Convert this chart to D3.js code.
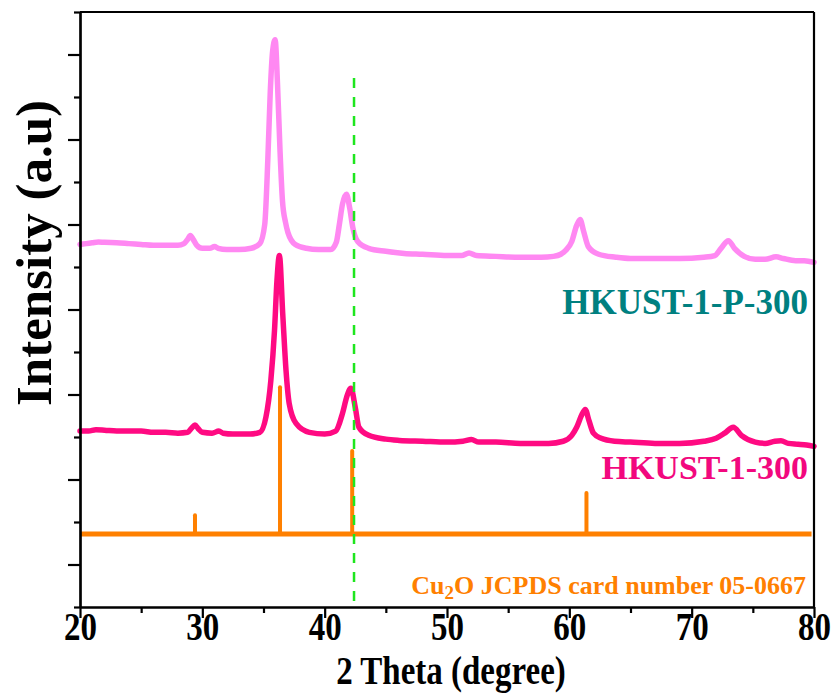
<!DOCTYPE html>
<html><head><meta charset="utf-8">
<script src="https://cdn.jsdelivr.net/npm/d3@7"></script>
<style>
html,body{margin:0;padding:0;background:#fff;}
text{font-family:"Liberation Serif","Times New Roman",serif;font-weight:bold;}
</style></head>
<body><svg id="c" width="835" height="698"></svg>
<script>
// ---- data ----
const p300X = [20.0,20.5,21.0,21.5,22.0,23.0,24.0,25.0,26.0,27.0,28.0,28.5,28.8,29.02,29.25,29.55,30.0,30.6,31.0,31.3,32.0,33.0,34.0,34.7,35.1,35.35,35.55,35.75,35.95,36.15,36.35,36.55,36.8,37.0,37.6,38.5,39.5,40.5,40.95,41.2,41.45,41.78,42.05,42.3,42.7,43.6,45.0,46.5,48.0,50.0,51.2,51.8,52.4,54.0,56.0,57.7,58.7,59.3,59.7,60.2,60.6,60.88,61.15,61.55,62.4,63.8,65.0,67.0,69.0,71.0,71.9,72.4,73.0,73.5,74.3,75.2,76.0,76.9,77.5,78.5,79.2,80.0];
const p300Y = [853,855,857,859,858,857,855,853,851,851,851,855,865,874,865,851,844,844,848,844,841,841,844,855,900,1050,1210,1309,1335,1227,1074,956,905,881,853,844,841,841,858,900,947,971,938,893,860,844,837,832,830,827,827,833,827,825,823,823,825,830,839,860,898,912,886,848,830,823,820,820,820,823,827,844,862,844,825,818,818,824,820,815,815,811];

const h300X = [20.0,20.7,21.3,22.0,23.0,24.0,25.0,26.0,27.0,28.0,28.8,29.15,29.4,29.65,30.0,30.8,31.35,31.7,32.5,33.9,34.7,35.2,35.6,35.9,36.1,36.3,36.57,36.84,37.1,37.66,38.75,40.0,40.9,41.46,41.8,42.14,42.5,42.8,43.6,45.0,46.1,48.0,50.0,51.3,52.0,52.6,54.0,56.0,58.3,59.5,60.2,60.6,61.0,61.3,61.6,61.97,62.6,63.7,65.0,67.0,69.0,71.0,72.0,72.7,73.4,74.06,75.2,76.0,76.8,77.3,77.9,78.7,79.4,80.0];
const h300Y = [414,414,417,416,414,414,414,411,411,409,411,422,428,420,411,409,414,409,407,407,411,447,533,651,768,827,691,557,479,432,411,407,414,456,494,515,470,423,404,395,392,390,388,390,394,388,388,385,385,390,404,423,451,465,439,409,397,390,388,385,385,390,397,409,423,404,388,385,390,391,385,383,381,378];

const cu2oBase = 172;
const cu2oPeakX = [29.4,36.35,42.25,61.4];
const cu2oPeakY = [216,517,367,268];

const refLineX = 42.4;
const refLineTop = 1245;

const xTicksMajor = [20,30,40,50,60,70,80];
const xTicksMinor = [25,35,45,55,65,75];
const yTicksLong = [100,300,500,700,900,1100,1300];
const yTicksShort = [0,200,400,600,800,1000,1200,1400];

const labelP = "HKUST-1-P-300";
const labelH = "HKUST-1-300";
const xTitle = "2 Theta (degree)";
const yTitle = "Intensity (a.u)";

// ---- chart ----
const svg = d3.select("#c");
const L = 80, R = 814, T = 12, B = 607;
const x = d3.scaleLinear().domain([20,80]).range([L,R]);
const y = d3.scaleLinear().domain([0,1400]).range([B,T]);
const SY = 1.2; // vertical stretch of the axis text

const line = d3.line().x(d=>x(d[0])).y(d=>y(d[1])).curve(d3.curveMonotoneX);

svg.append("path").datum(p300X.map((v,i)=>[v,p300Y[i]]))
  .attr("d",line).attr("fill","none").attr("stroke","#ff88f2")
  .attr("stroke-width",5.5).attr("stroke-linejoin","round").attr("stroke-linecap","round");

svg.append("path").datum(h300X.map((v,i)=>[v,h300Y[i]]))
  .attr("d",line).attr("fill","none").attr("stroke","#ff0a82")
  .attr("stroke-width",5.5).attr("stroke-linejoin","round").attr("stroke-linecap","round");

// Cu2O reference pattern
svg.append("line").attr("x1",x(20)).attr("x2",x(79.8)).attr("y1",y(cu2oBase)).attr("y2",y(cu2oBase))
  .attr("stroke","#ff8000").attr("stroke-width",5);
svg.selectAll("line.stick").data(cu2oPeakX).enter().append("line").attr("class","stick")
  .attr("x1",d=>x(d)).attr("x2",d=>x(d))
  .attr("y1",y(cu2oBase)).attr("y2",(d,i)=>y(cu2oPeakY[i]))
  .attr("stroke","#ff8000").attr("stroke-width",4).attr("stroke-linecap","round");

// green dashed reference line
svg.append("line").attr("x1",x(refLineX)).attr("x2",x(refLineX))
  .attr("y1",y(refLineTop)).attr("y2",y(0))
  .attr("stroke","#1ee61e").attr("stroke-width",2.5).attr("stroke-dasharray","10,9");

// axes
const ax = svg.append("g");
function styleAxis(g){
  g.select(".domain").attr("stroke","#000").attr("stroke-width",2.2);
  g.selectAll(".tick line").attr("stroke","#000").attr("stroke-width",2.2);
}
ax.append("g").attr("transform",`translate(0,${B})`)
  .call(d3.axisBottom(x).tickValues(xTicksMinor).tickSize(6).tickSizeOuter(0).tickFormat(""))
  .call(styleAxis);
const xa = ax.append("g").attr("transform",`translate(0,${B})`)
  .call(d3.axisBottom(x).tickValues(xTicksMajor).tickSize(11).tickSizeOuter(0).tickPadding(6))
  .call(styleAxis);
xa.selectAll(".tick text").attr("font-size",33).attr("fill","#000")
  .attr("font-family","Liberation Serif, Times New Roman, serif").attr("font-weight","bold")
  .attr("dy",null).attr("y",null).attr("transform",`translate(0,33) scale(1,${SY})`);

ax.append("g").attr("transform",`translate(${L},0)`)
  .call(d3.axisLeft(y).tickValues(yTicksShort).tickSize(6).tickSizeOuter(0).tickFormat(""))
  .call(styleAxis);
ax.append("g").attr("transform",`translate(${L},0)`)
  .call(d3.axisLeft(y).tickValues(yTicksLong).tickSize(12).tickSizeOuter(0).tickFormat(""))
  .call(styleAxis);
// top & right frame
ax.append("line").attr("x1",L).attr("x2",R).attr("y1",T).attr("y2",T).attr("stroke","#000").attr("stroke-width",2.2);
ax.append("line").attr("x1",R).attr("x2",R).attr("y1",T).attr("y2",B).attr("stroke","#000").attr("stroke-width",2.2);

// titles
svg.append("text").attr("transform",`translate(451,684) scale(1,${SY})`).attr("text-anchor","middle")
  .attr("font-size",33).attr("fill","#000").text(xTitle);
svg.append("text").attr("transform","translate(51,253) rotate(-90)").attr("text-anchor","middle")
  .attr("font-size",51).attr("fill","#000").text(yTitle);

// series labels
svg.append("text").attr("x",808).attr("y",314).attr("text-anchor","end")
  .attr("font-size",35).attr("fill","#008080").text(labelP);
svg.append("text").attr("x",808).attr("y",479).attr("text-anchor","end")
  .attr("font-size",34).attr("fill","#f2087e").text(labelH);
const cu = svg.append("text").attr("x",806).attr("y",594).attr("text-anchor","end")
  .attr("font-size",26).attr("fill","#ff8000");
cu.append("tspan").text("Cu");
cu.append("tspan").attr("font-size",19).attr("dy",5).text("2");
cu.append("tspan").attr("dy",-5).text("O JCPDS card number 05-0667");
</script></body></html>
